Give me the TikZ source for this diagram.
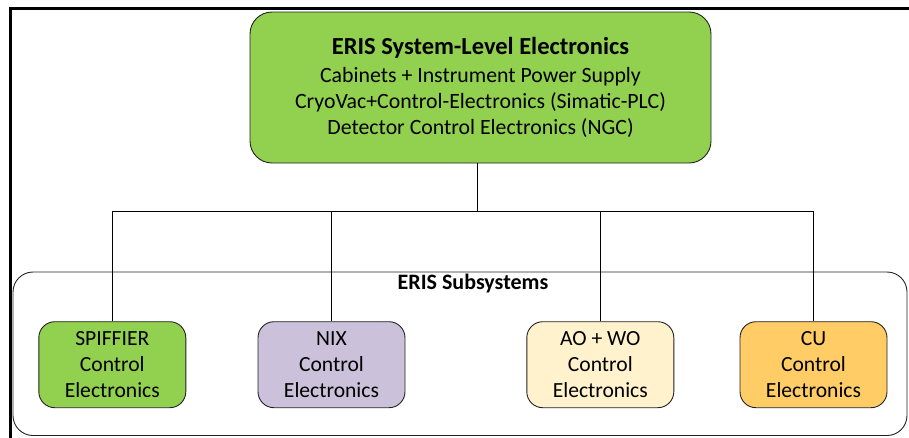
\documentclass[tikz,border=0pt]{standalone}
\usepackage{fontspec}
\setmainfont{Carlito}
\definecolor{cgreen}{HTML}{92D050}
\definecolor{cpurple}{HTML}{CCC1DA}
\definecolor{clight}{HTML}{FFF2CC}
\definecolor{corange}{HTML}{FFCC66}
\definecolor{cedge}{HTML}{222222}
\tikzset{
  subbox/.style={draw=cedge, line width=0.9pt, rounded corners=16pt, minimum width=147pt, minimum height=86pt, align=center, inner sep=0pt, font=\fontsize{21.6}{26}\selectfont},
  conn/.style={draw=black, line width=0.9pt},
}
\begin{document}
\begin{tikzpicture}[x=1pt,y=-1pt]
\useasboundingbox (0,0) rectangle (909,437);
% frame
\draw[line width=3pt, line cap=rect] (10.5,437) -- (10.5,8) -- (909,8);
% subsystems container
\draw[draw=cedge, line width=0.9pt, rounded corners=20pt] (13,272) rectangle (907,435.5);
\node[font=\bfseries\fontsize{22}{26}\selectfont, inner sep=0pt] (subtitle) at (473,284) {ERIS Subsystems};
% top box
\node[draw=cedge, line width=0.9pt, fill=cgreen, rounded corners=22pt, minimum width=461pt, minimum height=151pt, align=center, inner sep=0pt, font=\fontsize{21.8}{26}\selectfont] (top) at (480.5,87.5)
 {{\bfseries\fontsize{24.5}{28}\selectfont ERIS System-Level Electronics}\\[2pt]
  Cabinets + Instrument Power Supply\\
  CryoVac+Control-Electronics (Simatic-PLC)\\
  Detector Control Electronics (NGC)};
% subsystem boxes
\node[subbox, fill=cgreen] (spif) at (112.3,364.7) {SPIFFIER\\Control\\Electronics};
\node[subbox, fill=cpurple] (nix) at (331.5,364.7) {NIX\\Control\\Electronics};
\node[subbox, fill=clight] (ao) at (600.3,364.7) {AO + WO\\Control\\Electronics};
\node[subbox, fill=corange] (cu) at (813.5,364.7) {CU\\Control\\Electronics};
% connectors
\coordinate (bus) at (477,211);
\draw[conn] (top.south -| bus) -- (bus);
\draw[conn] (spif.north) -- (spif.north |- bus) -- (cu.north |- bus) -- (cu.north);
\draw[conn] (nix.north) -- (nix.north |- bus);
\draw[conn] (ao.north) -- (ao.north |- bus);
\end{tikzpicture}
\end{document}
